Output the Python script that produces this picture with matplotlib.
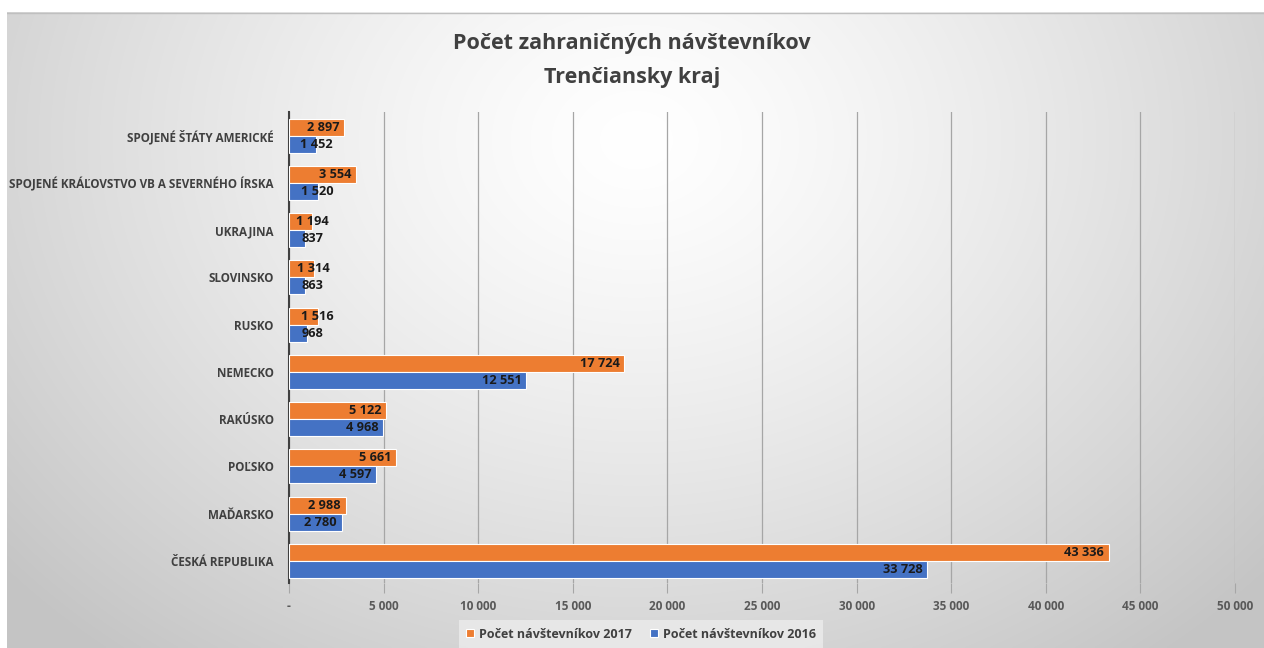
import numpy as np
import matplotlib
matplotlib.use("Agg")
import matplotlib.pyplot as plt

# Data (bottom to top as drawn)
countries = [
    "ČESKÁ REPUBLIKA",
    "MAĎARSKO",
    "POĽSKO",
    "RAKÚSKO",
    "NEMECKO",
    "RUSKO",
    "SLOVINSKO",
    "UKRAJINA",
    "SPOJENÉ KRÁĽOVSTVO VB A SEVERNÉHO ÍRSKA",
    "SPOJENÉ ŠTÁTY AMERICKÉ",
]
visitors_2017 = [43336, 2988, 5661, 5122, 17724, 1516, 1314, 1194, 3554, 2897]
visitors_2016 = [33728, 2780, 4597, 4968, 12551, 968, 863, 837, 1520, 1452]
x_ticks = [0, 5000, 10000, 15000, 20000, 25000, 30000, 35000, 40000, 45000, 50000]

orange = "#ED7D31"
blue = "#4472C4"
plt.rcParams["font.family"] = ["Open Sans", "DejaVu Sans"]


def fmt(v):
    return "-" if v == 0 else f"{v:,}".replace(",", " ")


W, H = 1264, 648
fig = plt.figure(figsize=(W / 100, H / 100), dpi=100)
fig.patch.set_facecolor("white")

# radial gradient background
bg = fig.add_axes([7 / W, 0, 1 - 7 / W, 1 - 12 / H])
yy, xx = np.mgrid[0:300, 0:600]
cx, cy = 300, 60
r = np.sqrt(((xx - cx) / 330.0) ** 2 + ((yy - cy) / 260.0) ** 2)
shade = 1.0 - 0.18 * np.clip(r, 0, 1.2) ** 1.3
bg.imshow(np.dstack([shade] * 3), aspect="auto", extent=[0, 1, 0, 1],
          origin="upper", interpolation="bilinear")
bg.axis("off")
bg.plot([0, 1], [0.999, 0.999], color="#bfbfbf", lw=1, transform=bg.transAxes)

ax = fig.add_axes([289 / W, 1 - 583 / H, (1235 - 289) / W, (583 - 112) / H])
ax.patch.set_alpha(0)

y = np.arange(len(countries))
h = 0.36
ax.barh(y + h / 2, visitors_2017, height=h, color=orange, edgecolor="white",
        linewidth=0.8, label="Počet návštevníkov 2017", zorder=3)
ax.barh(y - h / 2, visitors_2016, height=h, color=blue, edgecolor="white",
        linewidth=0.8, label="Počet návštevníkov 2016", zorder=3)

# labels at the inside end; short bars get the label centred over the end
for vals, off in ((visitors_2017, h / 2), (visitors_2016, -h / 2)):
    for i, v in enumerate(vals):
        if v > 2500:
            ax.text(v - 250, i + off, fmt(v), ha="right", va="center",
                    fontsize=9.2, fontweight="bold", color="#1a1a1a", zorder=4)
        else:
            ax.text(max(v, 1250), i + off, fmt(v), ha="center", va="center",
                    fontsize=9.2, fontweight="bold", color="#1a1a1a", zorder=4)

ax.set_xlim(0, 50000)
ax.set_ylim(-0.47, len(countries) - 0.5)
ax.set_xticks(x_ticks)
ax.set_xticklabels([fmt(t) for t in x_ticks], fontsize=8.5, color="#595959",
                   fontweight="bold")
ax.set_yticks(y)
ax.set_yticklabels(countries, fontsize=8.4, color="#404040", fontweight="bold")
ax.tick_params(axis="y", length=0, pad=11)
ax.tick_params(axis="x", length=7, color="#a6a6a6", pad=5)
ax.grid(axis="x", color="#a6a6a6", linewidth=0.9, zorder=0)
for s in ("top", "right", "bottom"):
    ax.spines[s].set_visible(False)
ax.spines["left"].set_color("#404040")
ax.spines["left"].set_linewidth(1.5)

fig.text(0.5, 1 - 43 / H, "Počet zahraničných návštevníkov", ha="center",
         va="center", fontsize=15.5, fontweight="bold", color="#404040")
fig.text(0.5, 1 - 77 / H, "Trenčiansky kraj", ha="center", va="center",
         fontsize=15.5, fontweight="bold", color="#404040")

leg = fig.legend(loc="center", bbox_to_anchor=(641 / W, 1 - 634 / H), ncol=2,
                 frameon=True, fontsize=9, handlelength=0.6, handleheight=0.6,
                 columnspacing=1.5, handletextpad=0.4, borderpad=0.6)
leg.get_frame().set_facecolor("#ececec")
leg.get_frame().set_edgecolor("none")
leg.get_frame().set_boxstyle("square", pad=0)
for t in leg.get_texts():
    t.set_color("#404040")
    t.set_fontweight("bold")

fig.savefig("out.png", dpi=100)
